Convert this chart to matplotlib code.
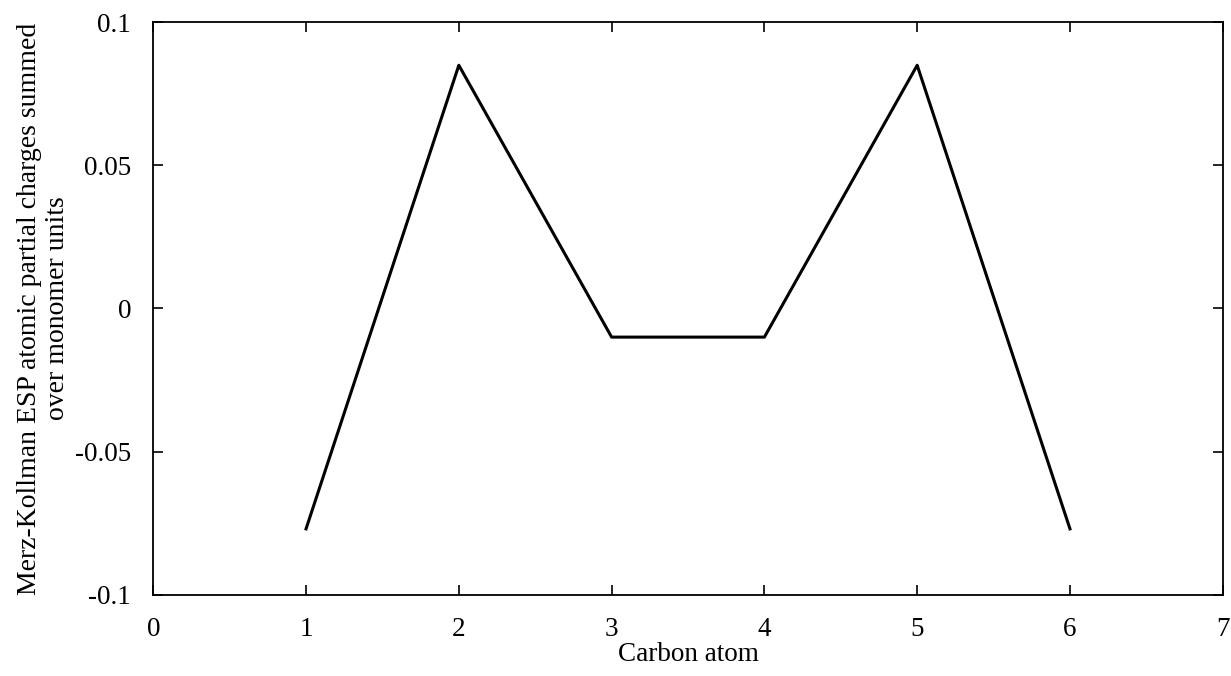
import matplotlib.pyplot as plt

# summed Merz-Kollman ESP charges per carbon position
carbon_atom = [1, 2, 3, 4, 5, 6]
charge_sum = [-0.077, 0.085, -0.01, -0.01, 0.085, -0.077]

x_ticks = [0, 1, 2, 3, 4, 5, 6, 7]
y_ticks = [-0.1, -0.05, 0, 0.05, 0.1]
y_tick_labels = ['-0.1', '-0.05', '0', '0.05', '0.1']

plt.rcParams['font.family'] = ['Liberation Serif', 'DejaVu Serif']

fig = plt.figure(figsize=[12.31, 6.76], dpi=100)
ax = fig.add_axes([0.1245, 0.1203, 0.8688, 0.8467])

ax.plot(carbon_atom, charge_sum, color='black', linewidth=2.2)

ax.set_xlim(0, 7)
ax.set_ylim(-0.1, 0.1)
ax.set_xticks(x_ticks)
ax.set_xticklabels([str(t) for t in x_ticks])
ax.set_yticks(y_ticks)
ax.set_yticklabels(y_tick_labels)

ax.tick_params(direction='in', length=7, width=1.2, top=True, right=True,
               labelsize=19.5, pad=16)
for spine in ax.spines.values():
    spine.set_linewidth(1.3)

ax.set_xlabel('Carbon atom', fontsize=19.5, labelpad=0)
ax.set_ylabel('Merz-Kollman ESP atomic partial charges summed\nover monomer units',
              fontsize=20, linespacing=1.15)
ax.yaxis.set_label_coords(-0.078, 0.5)

fig.savefig('out.png', dpi=100)
